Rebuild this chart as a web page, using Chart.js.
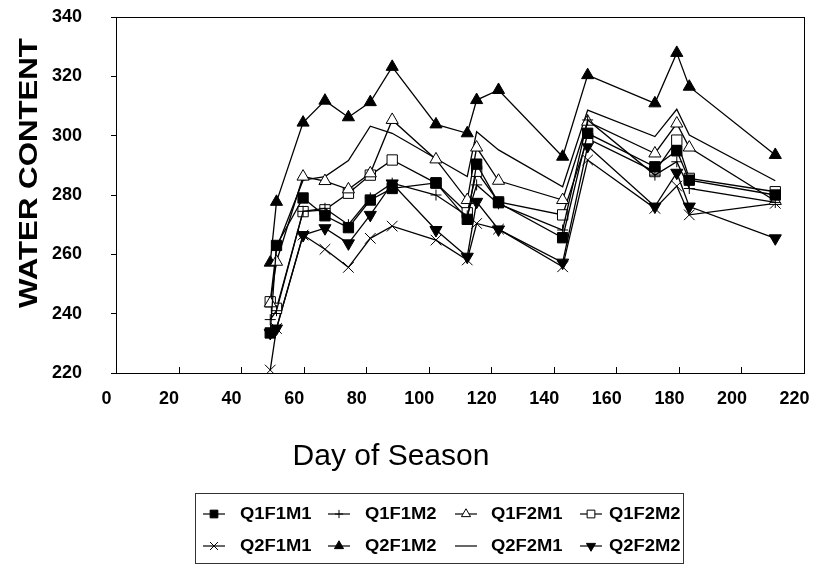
<!DOCTYPE html>
<html>
<head>
<meta charset="utf-8">
<script src="https://cdn.jsdelivr.net/npm/chart.js@4.4.0/dist/chart.umd.min.js"></script>
<style>
  html, body { margin: 0; padding: 0; background: #fff; }
  #wrap { width: 816px; height: 570px; }
</style>
</head>
<body>
<div id="wrap"><canvas id="waterChart" width="816" height="570"></canvas></div>
<script>
// days of season sampled
const days = [49, 51, 59.5, 66.5, 74, 81, 88, 102, 112, 115, 122, 142.5, 150.5, 172, 179, 183, 210.5];

// water content per treatment
const Q1F1M1 = [233.5, 263, 279, 273, 269, 278.3, 282.2, 284.1, 271.8, 290.4, 277.4, 265.6, 300.8, 289.5, 294.9, 285, 280];
const Q1F1M2 = [238, 241, 274.5, 275.5, 270, 279, 284, 280, 273, 283.4, 277, 268.2, 305.3, 286.7, 291.2, 282.2, 277.5];
const Q1F2M1 = [243.5, 257.5, 286.2, 284.7, 281.9, 287.3, 305.3, 292, 278.3, 296, 284.8, 278.3, 304.7, 294, 304.1, 296, 278];
const Q1F2M2 = [244, 241.8, 274.4, 275, 280.6, 286.7, 291.8, 284, 274, 288, 277.7, 273.3, 299, 287.9, 298.5, 285.6, 281.1];
const Q2F1M1 = [221, 235, 266.5, 261.7, 255.6, 265.4, 269.5, 264.8, 258.1, 270.4, 268.5, 255.8, 291.8, 275.5, 283, 273.3, 277.2];
const Q2F1M2 = [257.2, 277.7, 304.4, 311.8, 306.2, 311.3, 323.2, 303.8, 300.8, 312, 315.4, 292.9, 320.4, 310.9, 327.9, 316.5, 293.5];
const Q2F2M1 = [244, 262, 285, 286.2, 291.6, 303.2, 300.8, 292.3, 286.2, 301.3, 295.2, 282.8, 308.6, 299.7, 308.9, 300.2, 284.8];
const Q2F2M2 = [233.5, 235, 266.5, 268.8, 263.7, 273.3, 283.9, 268.2, 259.2, 277.7, 268.4, 257.2, 296.5, 276.1, 287.5, 276.1, 265.4];

const seriesNames = ['Q1F1M1', 'Q1F1M2', 'Q1F2M1', 'Q1F2M2', 'Q2F1M1', 'Q2F1M2', 'Q2F2M1', 'Q2F2M2'];
const seriesValues = [Q1F1M1, Q1F1M2, Q1F2M1, Q1F2M2, Q2F1M1, Q2F1M2, Q2F2M1, Q2F2M2];

// marker look for each series (same order as names)
const markers = [
    { style: 'rect', radius: 7.3, fill: '#000' },
    { style: 'cross', radius: 5.5, fill: '#000' },
    { style: 'triangle', radius: 7, fill: '#fff' },
    { style: 'rect', radius: 7.3, fill: '#fff' },
    { style: 'crossRot', radius: 7.5, fill: '#000' },
    { style: 'triangle', radius: 7, fill: '#000' },
    { style: false, radius: 0, fill: '#000' },
    { style: 'triangle', radius: 7, fill: '#000', rotation: 180 }
];

const FONT = "'Liberation Sans', Arial, sans-serif";

const datasets = seriesNames.map((name, i) => ({
    label: name,
    data: days.map((d, j) => ({ x: d, y: seriesValues[i][j] })),
    borderColor: '#000',
    borderWidth: 1.3,
    backgroundColor: markers[i].fill,
    pointStyle: markers[i].style,
    pointRadius: markers[i].radius,
    pointRotation: markers[i].rotation || 0,
    pointBorderColor: '#000',
    pointBorderWidth: 1,
    pointBackgroundColor: markers[i].fill,
    tension: 0,
    fill: false
}));

// small marker drawer for the legend
function drawMarker(ctx, m, x, y, scale) {
    if (!m.style) return;
    const r = m.radius * scale;
    ctx.save();
    ctx.fillStyle = m.fill;
    ctx.strokeStyle = '#000';
    ctx.lineWidth = 1;
    ctx.beginPath();
    if (m.style === 'rect') {
        const s = r * Math.SQRT1_2;
        ctx.rect(x - s, y - s, 2 * s, 2 * s);
        ctx.fill();
        ctx.stroke();
    } else if (m.style === 'triangle') {
        const rot = (m.rotation || 0) * Math.PI / 180;
        for (let k = 0; k < 3; k++) {
            const a = rot + k * 2 * Math.PI / 3;
            const px = x + Math.sin(a) * r;
            const py = y - Math.cos(a) * r;
            if (k === 0) ctx.moveTo(px, py); else ctx.lineTo(px, py);
        }
        ctx.closePath();
        ctx.fill();
        ctx.stroke();
    } else if (m.style === 'cross') {
        ctx.moveTo(x - r, y); ctx.lineTo(x + r, y);
        ctx.moveTo(x, y - r); ctx.lineTo(x, y + r);
        ctx.stroke();
    } else if (m.style === 'crossRot') {
        const s = r * Math.SQRT1_2;
        ctx.moveTo(x - s, y - s); ctx.lineTo(x + s, y + s);
        ctx.moveTo(x - s, y + s); ctx.lineTo(x + s, y - s);
        ctx.stroke();
    }
    ctx.restore();
}

// frame, inward x ticks, axis titles and boxed legend
const decorations = {
    id: 'decorations',
    afterDraw(chart) {
        const ctx = chart.ctx;
        const area = chart.chartArea;
        const xs = chart.scales.x;
        ctx.save();
        ctx.strokeStyle = '#000';
        ctx.lineWidth = 1;
        ctx.strokeRect(Math.round(area.left) - 0.5, Math.round(area.top) + 0.5,
            Math.round(area.right - area.left), Math.round(area.bottom - area.top));
        ctx.beginPath();
        xs.ticks.forEach(t => {
            const px = Math.round(xs.getPixelForValue(t.value)) - 0.5;
            ctx.moveTo(px, area.bottom);
            ctx.lineTo(px, area.bottom - 6);
        });
        ctx.stroke();

        // y title (stretched bold)
        ctx.fillStyle = '#000';
        ctx.save();
        ctx.translate(30, 173);
        ctx.rotate(-Math.PI / 2);
        ctx.scale(1.2, 1);
        ctx.font = 'bold 26px ' + FONT;
        ctx.textAlign = 'center';
        ctx.textBaseline = 'middle';
        ctx.fillText('WATER CONTENT', 0, 0);
        ctx.restore();

        // x title
        ctx.font = '30px ' + FONT;
        ctx.textAlign = 'center';
        ctx.textBaseline = 'alphabetic';
        ctx.fillText('Day of Season', 391, 465);

        // legend box
        ctx.strokeStyle = '#333';
        ctx.strokeRect(195.5, 493.5, 488, 70);
        const colLine = [203, 328, 455, 580];
        const colText = [240, 365, 491, 609];
        const rowY = [514, 546];
        seriesNames.forEach((name, i) => {
            const c = i % 4, r = Math.floor(i / 4);
            const y = rowY[r];
            ctx.strokeStyle = '#000';
            ctx.lineWidth = 1.2;
            ctx.beginPath();
            ctx.moveTo(colLine[c], y);
            ctx.lineTo(colLine[c] + 22, y);
            ctx.stroke();
            drawMarker(ctx, markers[i], colLine[c] + 11, y, 0.75);
            ctx.save();
            ctx.translate(colText[c], y);
            ctx.scale(1.15, 1);
            ctx.font = 'bold 16px ' + FONT;
            ctx.textAlign = 'left';
            ctx.textBaseline = 'middle';
            ctx.fillStyle = '#000';
            ctx.fillText(name, 0, 1);
            ctx.restore();
        });
        ctx.restore();
    }
};

// keep the plot box fixed: no extra room for overhanging labels
function noPad(s) {
    s.paddingTop = 0;
    s.paddingBottom = 0;
    s.paddingLeft = 0;
    s.paddingRight = 0;
}

new Chart(document.getElementById('waterChart'), {
    type: 'line',
    data: { datasets: datasets },
    options: {
        responsive: false,
        animation: false,
        layout: { padding: { top: 17, right: 11, left: 0, bottom: 0 } },
        plugins: {
            legend: { display: false },
            tooltip: { enabled: false }
        },
        scales: {
            x: {
                type: 'linear',
                min: 0,
                max: 220,
                afterFit: (s) => { s.height = 197; noPad(s); },
                grid: { display: false, drawTicks: false },
                border: { display: false },
                ticks: {
                    stepSize: 20,
                    padding: 15,
                    labelOffset: -10.5,
                    maxRotation: 0,
                    color: '#000',
                    font: { family: FONT, size: 18, weight: 'bold' }
                }
            },
            y: {
                type: 'linear',
                min: 220,
                max: 340,
                afterFit: (s) => { s.width = 117; noPad(s); },
                grid: { drawOnChartArea: false, drawTicks: true, tickLength: 6, color: '#000' },
                border: { display: false },
                ticks: {
                    stepSize: 20,
                    padding: 29,
                    color: '#000',
                    font: { family: FONT, size: 18, weight: 'bold' }
                }
            }
        }
    },
    plugins: [decorations]
});
</script>
</body>
</html>
